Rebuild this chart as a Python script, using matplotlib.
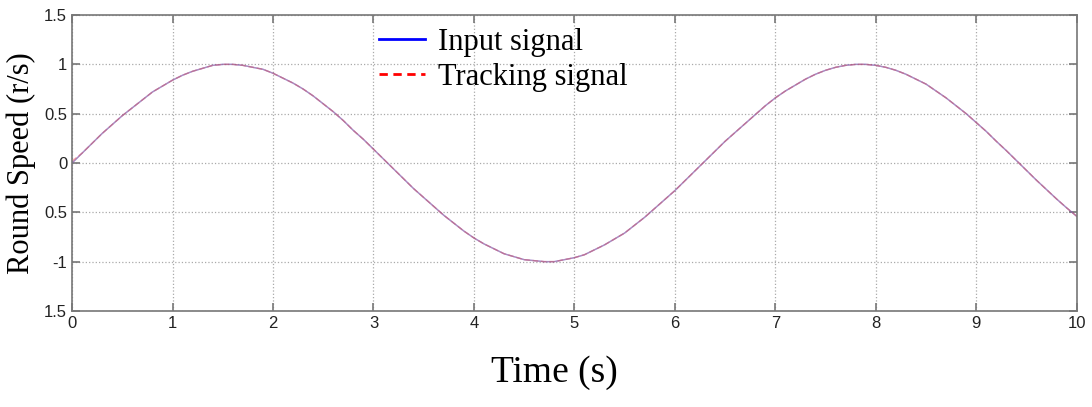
import matplotlib
matplotlib.use('Agg')
import matplotlib.pyplot as plt
from matplotlib.lines import Line2D

# Values (every 0.1 s)
time_s = [i / 10 for i in range(101)]
input_signal = [
    0.00, 0.10, 0.20, 0.30, 0.39, 0.48, 0.56, 0.64, 0.72, 0.78,
    0.84, 0.89, 0.93, 0.96, 0.99, 1.00, 1.00, 0.99, 0.97, 0.95,
    0.91, 0.86, 0.81, 0.75, 0.68, 0.60, 0.52, 0.43, 0.33, 0.24,
    0.14, 0.04, -0.06, -0.16, -0.26, -0.35, -0.44, -0.53, -0.61, -0.69,
    -0.76, -0.82, -0.87, -0.92, -0.95, -0.98, -0.99, -1.00, -1.00, -0.98,
    -0.96, -0.93, -0.88, -0.83, -0.77, -0.71, -0.63, -0.55, -0.46, -0.37,
    -0.28, -0.18, -0.08, 0.02, 0.12, 0.22, 0.31, 0.40, 0.49, 0.58,
    0.66, 0.73, 0.79, 0.85, 0.90, 0.94, 0.97, 0.99, 1.00, 1.00,
    0.99, 0.97, 0.94, 0.90, 0.85, 0.80, 0.73, 0.66, 0.58, 0.50,
    0.41, 0.32, 0.22, 0.125, 0.025, -0.075, -0.175, -0.27, -0.365, -0.455,
    -0.54]
tracking_signal = [
    0.02, 0.10, 0.20, 0.30, 0.39, 0.48, 0.56, 0.64, 0.72, 0.78,
    0.84, 0.89, 0.93, 0.96, 0.99, 1.00, 1.00, 0.99, 0.97, 0.95,
    0.91, 0.86, 0.81, 0.75, 0.68, 0.60, 0.52, 0.43, 0.33, 0.24,
    0.14, 0.04, -0.06, -0.16, -0.26, -0.35, -0.44, -0.53, -0.61, -0.69,
    -0.76, -0.82, -0.87, -0.92, -0.95, -0.98, -0.99, -1.00, -1.00, -0.98,
    -0.96, -0.93, -0.88, -0.83, -0.77, -0.71, -0.63, -0.55, -0.46, -0.37,
    -0.28, -0.18, -0.08, 0.02, 0.12, 0.22, 0.31, 0.40, 0.49, 0.58,
    0.66, 0.73, 0.79, 0.85, 0.90, 0.94, 0.97, 0.99, 1.00, 1.00,
    0.99, 0.97, 0.94, 0.90, 0.85, 0.80, 0.73, 0.66, 0.58, 0.50,
    0.41, 0.32, 0.22, 0.125, 0.025, -0.075, -0.175, -0.27, -0.365, -0.455,
    -0.54]

x_ticks = [0, 1, 2, 3, 4, 5, 6, 7, 8, 9, 10]
y_ticks = [-1.5, -1, -0.5, 0, 0.5, 1, 1.5]
# tick labels as printed in the figure (some minus signs are missing)
y_tick_labels = ['1.5', '-1', '0.5', '0', '0.5', '1', '1.5']

fig = plt.figure(figsize=(10.92, 4.07), dpi=100)
ax = fig.add_axes([0.066, 0.236, 0.920, 0.727])

# the two signals overlap, so the curve looks a faded purple
ax.plot(time_s, input_signal, color='blue', lw=1.0, alpha=0.35)
ax.plot(time_s, tracking_signal, color='red', lw=1.0, ls='--',
        dashes=(4, 2), alpha=0.35)
ax.plot(time_s, input_signal, color='#b07890', lw=1.0, alpha=0.6)

ax.set_xlim(0, 10)
ax.set_ylim(-1.5, 1.5)
ax.set_xticks(x_ticks)
ax.set_yticks(y_ticks)
ax.set_yticklabels(y_tick_labels)

# MATLAB style box: grey spines, ticks inside on all sides
for side in ax.spines.values():
    side.set_color('#777777')
    side.set_linewidth(1.2)
ax.tick_params(direction='in', length=6, width=1.2, color='#777777',
               top=True, right=True, labelsize=12, labelcolor='#222222')
ax.grid(True, linestyle=':', color='#aaaaaa', linewidth=0.9)

for lbl in ax.get_xticklabels() + ax.get_yticklabels():
    lbl.set_family('Liberation Sans')

ax.set_xlabel('Time (s)', family='Liberation Serif', fontsize=27)
ax.xaxis.set_label_coords(0.48, -0.15)
ax.set_ylabel('Round Speed (r/s)', family='Liberation Serif', fontsize=22,
              labelpad=6)

handles = [Line2D([], [], color='blue', lw=2),
           Line2D([], [], color='red', lw=2, ls='--', dashes=(3, 2))]
ax.legend(handles, ['Input signal', 'Tracking signal'], loc='upper left',
          bbox_to_anchor=(0.278, 1.05), frameon=False, handlelength=1.5,
          handletextpad=0.45, labelspacing=0.2,
          prop={'family': 'Liberation Serif', 'size': 22})

plt.savefig('out.png', dpi=100)
